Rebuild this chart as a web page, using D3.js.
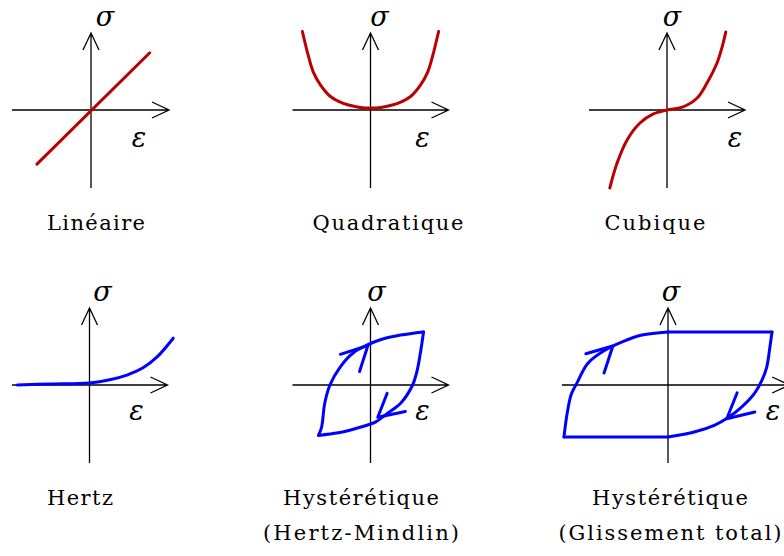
<!DOCTYPE html>
<html lang="fr">
  <style>
    body {
      margin: 0;
      background: #fff;
    }
    .axe {
      fill: none;
      stroke: #000;
      stroke-width: 1.3px;
    }
    .courbe {
      fill: none;
      stroke-width: 3px;
      stroke-linecap: round;
      stroke-linejoin: round;
    }
    .sym {
      font-family: "DejaVu Serif", "Liberation Serif", "Times New Roman", serif;
      font-style: italic;
      font-size: 27px;
    }
    .legende {
      font-family: "DejaVu Serif", "Liberation Serif", "Times New Roman", serif;
      font-size: 21px;
    }
  </style>

  <head>
    <script src="https://d3js.org/d3.v7.min.js"></script>
  </head>

  <body>
    <svg width="784" height="556"></svg>
    <script>
      // courbes (unites : 1 = 52 px)
      var linX = [-1.04, 1.13];
      var linY = [-1.04, 1.1];

      var quadX = [-1.31, -1.19, -1.1, -0.96, -0.77, -0.6, -0.44, -0.2, 0, 0.2, 0.44, 0.6, 0.77, 0.96, 1.1, 1.19, 1.31];
      var quadY = [1.51, 1.02, 0.73, 0.48, 0.26, 0.16, 0.1, 0.05, 0.04, 0.05, 0.1, 0.16, 0.26, 0.48, 0.73, 1.02, 1.51];

      var cubX = [-1.1, -0.96, -0.77, -0.52, -0.27, 0, 0.31, 0.58, 0.77, 0.96, 1.06, 1.13];
      var cubY = [-1.5, -1.02, -0.58, -0.25, -0.08, 0, 0.06, 0.23, 0.52, 0.9, 1.21, 1.5];

      var hertzX = [-1.39, -0.76, 0, 0.39, 0.72, 1.03, 1.3, 1.61];
      var hertzY = [0, 0.02, 0.04, 0.1, 0.19, 0.33, 0.54, 0.9];

      // Hertz-Mindlin : branche montante / descendante
      var hmHautX = [-1.0, -0.94, -0.88, -0.78, -0.58, -0.33, -0.06, 0.19, 0.58, 1.02];
      var hmHautY = [-0.97, -0.81, -0.35, 0, 0.35, 0.62, 0.77, 0.87, 0.96, 1.02];
      var hmBasX = [-1.0, -0.62, -0.33, 0, 0.1, 0.33, 0.58, 0.81, 0.9, 0.96, 1.02];
      var hmBasY = [-0.97, -0.92, -0.85, -0.75, -0.71, -0.54, -0.35, 0, 0.29, 0.62, 1.02];
      var hmFlecheHaut = [[-0.58, 0.59], [-0.05, 0.76], [-0.21, 0.26]];
      var hmFlecheBas = [[0.32, -0.16], [0.14, -0.62], [0.67, -0.51]];

      // glissement total : branches courbes puis paliers
      var gtHautX = [-2.0, -1.94, -1.86, -1.75, -1.54, -1.21, -0.88, -0.5, 0];
      var gtHautY = [-1.0, -0.55, -0.18, 0.04, 0.42, 0.67, 0.83, 0.96, 1.02];
      var gtBasX = [0, 0.52, 0.9, 1.15, 1.42, 1.67, 1.81, 1.9, 1.96, 2.0];
      var gtBasY = [-1.0, -0.9, -0.77, -0.63, -0.42, -0.15, 0.1, 0.35, 0.73, 1.02];
      var gtPalierX = [0, 2.0];
      var gtPalierHautY = [1.02, 1.02];
      var gtPalierBasX = [-2.0, 0];
      var gtPalierBasY = [-1.0, -1.0];
      var gtFlecheHaut = [[-1.58, 0.6], [-1.06, 0.75], [-1.23, 0.23]];
      var gtFlecheBas = [[1.33, -0.15], [1.13, -0.65], [1.67, -0.52]];

      var legendes = [
        ["Linéaire"],
        ["Quadratique"],
        ["Cubique"],
        ["Hertz"],
        ["Hystérétique", "(Hertz-Mindlin)"],
        ["Hystérétique", "(Glissement total)"],
      ];

      var rouge = "#bb0000";
      var bleu = "#0000ff";
      var u = 52;

      function pts(xs, ys) {
        return xs.map(function (d, i) {
          return [d, ys[i]];
        });
      }

      var panneaux = [
        { ox: 91, oy: 110, x0: -1.52, x1: 1.5, sx: 14, ex: 48, ey: 37, lx: 96, lw: [98],
          courbes: [{ p: pts(linX, linY), c: rouge, lin: true }] },
        { ox: 370.5, oy: 110, x0: -1.5, x1: 1.5, sx: 9, ex: 52, ey: 37, lx: 388, lw: [151],
          courbes: [{ p: pts(quadX, quadY), c: rouge }] },
        { ox: 667, oy: 110, x0: -1.5, x1: 1.5, sx: 5, ex: 68, ey: 37, lx: 655, lw: [101],
          courbes: [{ p: pts(cubX, cubY), c: rouge }] },
        { ox: 89.5, oy: 385, x0: -1.49, x1: 1.5, sx: 13, ex: 47, ey: 35, lx: 80, lw: [66],
          courbes: [{ p: pts(hertzX, hertzY), c: bleu }] },
        { ox: 370.5, oy: 385, x0: -1.5, x1: 1.5, sx: 6, ex: 52, ey: 35, lx: 361, lw: [156, 196],
          courbes: [
            { p: pts(hmHautX, hmHautY), c: bleu },
            { p: pts(hmBasX, hmBasY), c: bleu },
            { p: hmFlecheHaut, c: bleu, lin: true },
            { p: hmFlecheBas, c: bleu, lin: true },
          ] },
        { ox: 668, oy: 385, x0: -2.04, x1: 2.33, sx: 3, ex: 105, ey: 35, lx: 670, lw: [156, 223],
          courbes: [
            { p: pts(gtHautX, gtHautY), c: bleu },
            { p: pts(gtPalierX, gtPalierHautY), c: bleu, lin: true },
            { p: pts(gtBasX, gtBasY), c: bleu },
            { p: pts(gtPalierBasX, gtPalierBasY), c: bleu, lin: true },
            { p: gtFlecheHaut, c: bleu, lin: true },
            { p: gtFlecheBas, c: bleu, lin: true },
          ] },
      ];

      var svg = d3.select("svg");

      panneaux.forEach(function (pn, k) {
        var x = d3.scaleLinear().domain([-1, 1]).range([pn.ox - u, pn.ox + u]);
        var y = d3.scaleLinear().domain([-1, 1]).range([pn.oy + u, pn.oy - u]);
        var g = svg.append("g");

        // axes avec fleches ouvertes
        var xa = x(pn.x0), xb = x(pn.x1), yb = y(-1.5), yt = y(1.48);
        g.append("path")
          .attr("class", "axe")
          .attr("d",
            "M" + xa + "," + pn.oy + "H" + xb +
            "M" + (xb - 17) + "," + (pn.oy - 8) + "L" + xb + "," + pn.oy + "L" + (xb - 17) + "," + (pn.oy + 8) +
            "M" + pn.ox + "," + yb + "V" + yt +
            "M" + (pn.ox - 8) + "," + (yt + 17) + "L" + pn.ox + "," + yt + "L" + (pn.ox + 8) + "," + (yt + 17));

        var ligne = d3.line()
          .x(function (d) { return x(d[0]); })
          .y(function (d) { return y(d[1]); });

        pn.courbes.forEach(function (c) {
          ligne.curve(c.lin ? d3.curveLinear : d3.curveCatmullRom.alpha(0.5));
          g.append("path")
            .attr("class", "courbe")
            .attr("stroke", c.c)
            .attr("d", ligne(c.p));
        });

        g.append("text")
          .attr("class", "sym")
          .attr("x", pn.ox + pn.sx)
          .attr("y", pn.oy - 84.5)
          .attr("text-anchor", "middle")
          .text("σ");

        g.append("text")
          .attr("class", "sym")
          .attr("x", pn.ox + pn.ex)
          .attr("y", pn.oy + pn.ey)
          .attr("text-anchor", "middle")
          .text("ε");

        legendes[k].forEach(function (t, j) {
          g.append("text")
            .attr("class", "legende")
            .attr("x", pn.lx - pn.lw[j] / 2)
            .attr("y", pn.oy + 120 + j * 35)
            .attr("textLength", pn.lw[j])
            .attr("lengthAdjust", "spacing")
            .text(t);
        });
      });
    </script>
  </body>
</html>
